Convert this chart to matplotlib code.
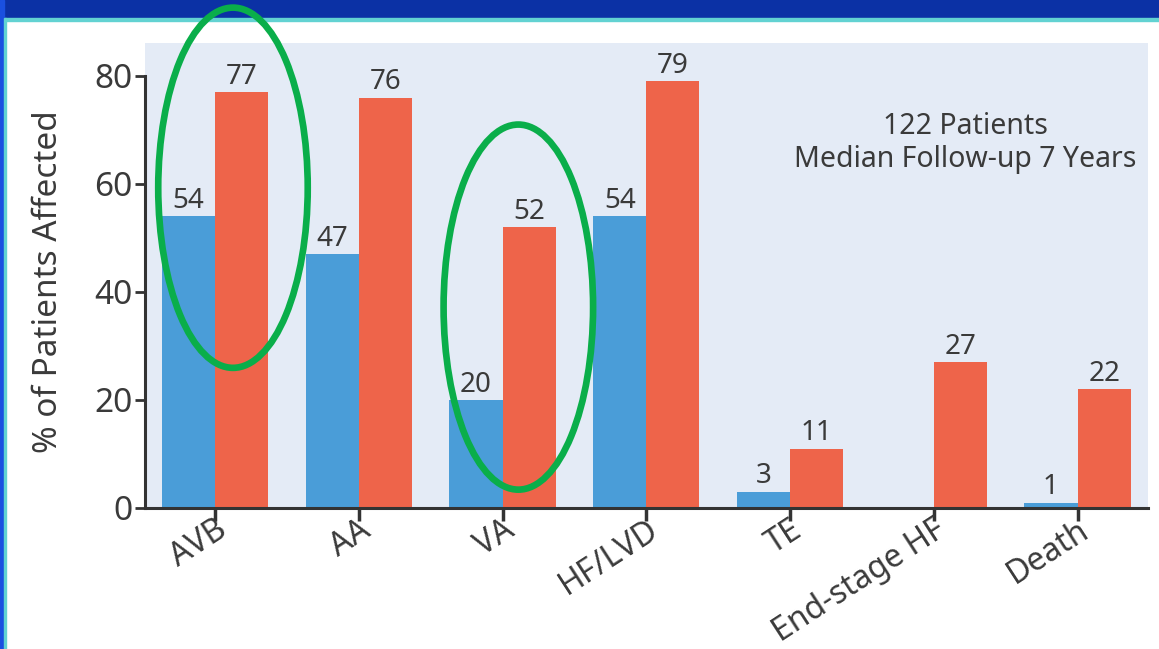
import matplotlib.pyplot as plt
import numpy as np
from matplotlib.patches import Ellipse, Rectangle

categories = ["AVB", "AA", "VA", "HF/LVD", "TE", "End-stage HF", "Death"]
blue_vals = [54, 47, 20, 54, 3, np.nan, 1]
red_vals = [77, 76, 52, 79, 11, 27, 22]
yticks = [0, 20, 40, 60, 80]

BLUE = "#4a9dd8"
RED = "#ee644a"
TXT = "#3a3a3a"

plt.rcParams['font.family'] = ['Noto Sans', 'DejaVu Sans']

fig = plt.figure(figsize=(11.59, 6.49), dpi=100)
fig.patch.set_facecolor("white")

# slide frame
frame = [
    ((0, 1 - 18 / 649), 1, 18 / 649, "#0b31a5"),
    ((0, 1 - 21 / 649), 1, 3 / 649, "#62d2d2"),
    ((0, 0), 4 / 1159, 1, "#1a50e0"),
    ((4 / 1159, 0), 2 / 1159, 1 - 18 / 649, "#62d2d2"),
]
for xy, fw, fh, c in frame:
    fig.patches.append(Rectangle(xy, fw, fh, transform=fig.transFigure, color=c, zorder=-5))

ax = fig.add_axes([145 / 1159, 1 - 508 / 649, (1148 - 145) / 1159, (508 - 43) / 649])
ax.set_facecolor("#e4ebf6")

x = np.arange(len(categories))
w = 0.37
ax.bar(x - w / 2, blue_vals, w, color=BLUE, zorder=2)
ax.bar(x + w / 2, red_vals, w, color=RED, zorder=2)

for xi, b, r in zip(x, blue_vals, red_vals):
    if not np.isnan(b):
        ax.annotate(str(b), (xi - w / 2, b), xytext=(0, 1), textcoords="offset points",
                    ha="center", va="bottom", fontsize=20, color=TXT)
    ax.annotate(str(r), (xi + w / 2, r), xytext=(0, 1), textcoords="offset points",
                ha="center", va="bottom", fontsize=20, color=TXT)

ax.set_xlim(-0.487, 6.49)
ax.set_ylim(0, 86.1)
ax.set_yticks(yticks)
ax.set_yticklabels([str(t) for t in yticks], fontsize=24, color=TXT)
ax.set_xticks(x)
ax.set_xticklabels(categories, rotation=33, ha="right", rotation_mode="anchor",
                   fontsize=23, color=TXT)
ax.tick_params(axis="y", length=7, width=2, color="#333333", pad=2)
ax.tick_params(axis="x", length=9, width=2.5, color="#333333", pad=-5)
for s in ["top", "right"]:
    ax.spines[s].set_visible(False)
ax.spines["left"].set_bounds(0, 80)
for s in ["left", "bottom"]:
    ax.spines[s].set_linewidth(2.2)
    ax.spines[s].set_color("#333333")
ax.set_ylabel("% of Patients Affected", fontsize=24, color=TXT)
ax.yaxis.set_label_coords(-0.08, 0.486)

ax.text(5.22, 67.6, "122 Patients\nMedian Follow-up 7 Years", ha="center", va="center",
        fontsize=20.5, color=TXT, linespacing=1.2)

# highlight ellipses
for cx, cy, eh in [(0.125, 59.3, 66.7), (2.11, 37.2, 67.6)]:
    ax.add_patch(Ellipse((cx, cy), 1.04, eh, fill=False, edgecolor="#0aae4a",
                         linewidth=4.8, zorder=5, clip_on=False))

fig.savefig("out.png", dpi=100)
